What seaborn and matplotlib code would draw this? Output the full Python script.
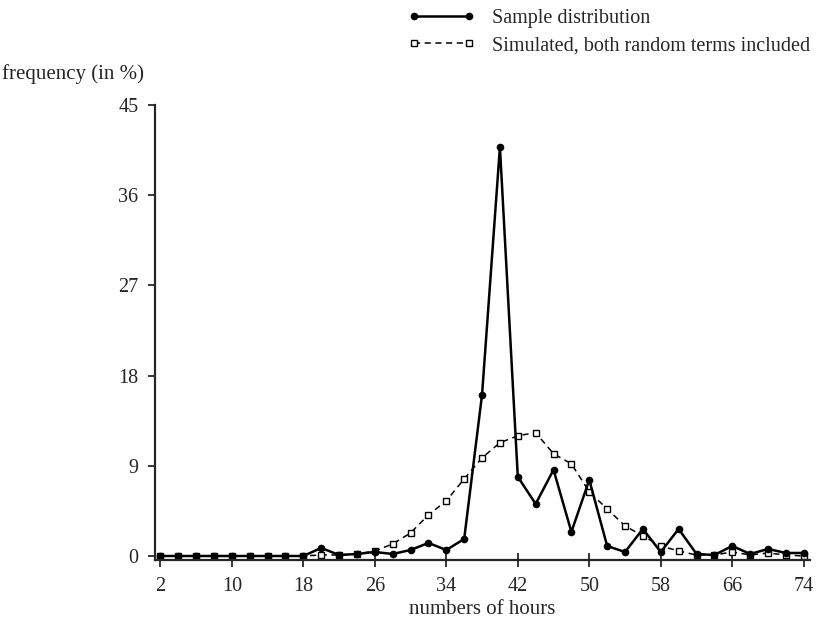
import matplotlib
matplotlib.use('Agg')
from matplotlib import pyplot as plt
import pandas as pd
import seaborn as sns

hours = [2, 4, 6, 8, 10, 12, 14, 16, 18, 20, 22, 24, 26, 28, 30, 32, 34, 36, 38,
         40, 42, 44, 46, 48, 50, 52, 54, 56, 58, 60, 62, 64, 66, 68, 70, 72, 74]

sample = [0, 0, 0, 0, 0, 0, 0, 0, 0, 0.8, 0.1, 0.2, 0.4, 0.2, 0.6, 1.3, 0.6, 1.7, 16.1,
          40.8, 7.9, 5.2, 8.6, 2.4, 7.6, 1.0, 0.4, 2.7, 0.4, 2.7, 0.2, 0.1, 1.0, 0.2, 0.7, 0.3, 0.3]

simulated = [0, 0, 0, 0, 0, 0, 0, 0, 0, 0.1, 0.1, 0.2, 0.5, 1.2, 2.3, 4.1, 5.5, 7.7, 9.8,
             11.3, 12.0, 12.3, 10.2, 9.2, 6.4, 4.7, 3.0, 2.0, 1.0, 0.5, 0.1, 0.1, 0.4, 0.1, 0.3, 0.1, 0.0]

x_ticks = [2, 10, 18, 26, 34, 42, 50, 58, 66, 74]
y_ticks = [0, 9, 18, 27, 36, 45]

sample_label = 'Sample distribution'
simulated_label = 'Simulated, both random terms included'

sns.set_style('ticks')
plt.rcParams['font.family'] = ['Liberation Serif', 'DejaVu Serif']
plt.rcParams['font.size'] = 14

df = pd.DataFrame({'hours': hours, 'sample': sample, 'simulated': simulated})

fig = plt.figure(figsize=(8.16, 6.23), dpi=100)
ax = fig.add_axes([155 / 816, 1 - 560 / 623, 655 / 816, 455 / 623])

sns.lineplot(data=df, x='hours', y='simulated', ax=ax, color='black', linewidth=1.1,
             linestyle=(0, (4, 3)), marker='s', markersize=4.5, markerfacecolor='white',
             markeredgecolor='black', markeredgewidth=1.0, label=simulated_label)
sns.lineplot(data=df, x='hours', y='sample', ax=ax, color='black', linewidth=1.8,
             marker='o', markersize=5.5, markeredgewidth=0, label=sample_label)

ax.set_xlim(1.4, 74.7)
ax.set_ylim(-0.4, 45)
ax.set_xticks(x_ticks)
ax.set_yticks(y_ticks)
ax.tick_params(axis='x', direction='inout', length=10, width=1.3, labelsize=14.5, pad=7)
ax.tick_params(axis='y', direction='out', length=5, width=1.3, labelsize=14.5, pad=7)
for side in ['top', 'right']:
    ax.spines[side].set_visible(False)
for side in ['left', 'bottom']:
    ax.spines[side].set_linewidth(1.6)

ax.set_xlabel('numbers of hours', fontsize=15, labelpad=3)
ax.set_ylabel('frequency (in %)', fontsize=15, rotation=0, ha='left', va='center')
ax.yaxis.set_label_coords(-0.234, 1.068)

handles, labels = ax.get_legend_handles_labels()
ax.get_legend().remove()
fig.legend(handles[::-1], labels[::-1], loc='upper right', bbox_to_anchor=(810 / 816, 1 - 9 / 623),
           frameon=False, fontsize=14.5, numpoints=2, handlelength=3.3,
           handletextpad=0.85, labelspacing=0.4, borderaxespad=0, borderpad=0)

fig.savefig('out.png', dpi=100)
